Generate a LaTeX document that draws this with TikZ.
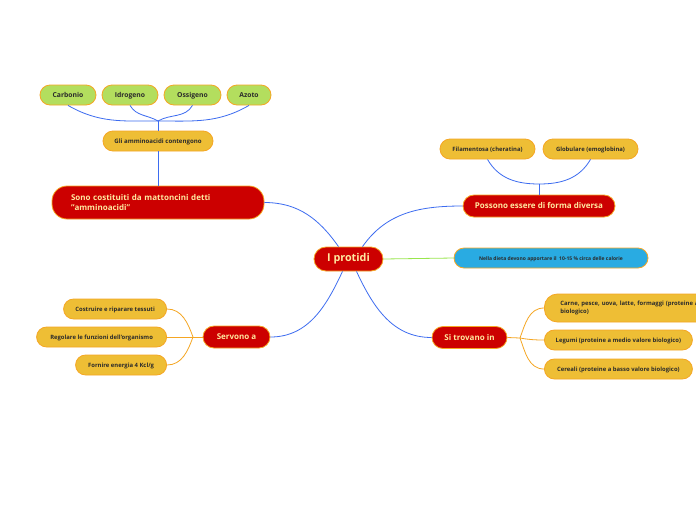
\documentclass[tikz,border=0pt]{standalone}
\usepackage{fontspec}
\setsansfont{Open Sans}
\usepackage{xcolor}
\usepackage{tikz}
\usetikzlibrary{positioning,calc}
\definecolor{mapred}{HTML}{CC0000}
\definecolor{maporange}{HTML}{F5A623}
\definecolor{mapgold}{HTML}{EEBE35}
\definecolor{mapgreen}{HTML}{B3DE5E}
\definecolor{mapblue}{HTML}{29ABE2}
\definecolor{maptext}{HTML}{FFE9A0}
\definecolor{leaftext}{HTML}{2B2B2B}
\definecolor{linkblue}{HTML}{3D6CF0}
\definecolor{linkgreen}{HTML}{99E64D}

\begin{document}
\begin{tikzpicture}[x=1pt,y=1pt,font=\sffamily,
  topic/.style={draw=maporange,fill=mapred,text=maptext,line width=0.8pt,
    rounded corners=11pt,minimum height=22pt,inner ysep=2pt,
    text height=1.5ex,text depth=0.3ex,
    font=\sffamily\bfseries\fontsize{8}{10}\selectfont},
  leaf/.style={draw=maporange,fill=mapgold,text=leaftext,line width=0.8pt,
    rounded corners=10pt,minimum height=20pt,inner ysep=1pt,
    text height=1.5ex,text depth=0.3ex,
    font=\sffamily\bfseries\fontsize{5.9}{7.5}\selectfont},
  atom/.style={leaf,fill=mapgreen,font=\sffamily\bfseries\fontsize{6.8}{8}\selectfont},
  bluelink/.style={draw=linkblue,line width=0.8pt},
  orangelink/.style={draw=maporange,line width=0.8pt}]

\clip (0,0) rectangle (696,-520);
\fill[white] (0,0) rectangle (696,-520);

% centre
\node[topic,minimum width=69pt,minimum height=24pt,rounded corners=12pt,
      font=\sffamily\bfseries\fontsize{10.8}{12}\selectfont] (prot) at (348.5,-259) {I protidi};

% left top branch
\node[topic,minimum height=33pt,rounded corners=15pt,align=left,
      text height=,text depth=,
      text width=174pt,inner xsep=19pt] (sono) at (158,-202.5)
{Sono costituiti da mattoncini detti\\"amminoacidi"};
\node[leaf,minimum width=110pt,font=\sffamily\bfseries\fontsize{6.1}{7.5}\selectfont]
      (gli) at (158,-141) {Gli amminoacidi contengono};
\node[atom,minimum width=56pt] (carb) at (68,-95) {Carbonio};
\node[atom,minimum width=56pt] (idro) at (130,-95) {Idrogeno};
\node[atom,minimum width=57pt] (ossi) at (192.5,-95) {Ossigeno};
\node[atom,minimum width=44pt] (azot) at (249,-95) {Azoto};
\coordinate (hubatom) at (158,-121);

% right top branch
\node[topic,minimum width=152pt] (poss) at (539,-206) {Possono essere di forma diversa};
\node[leaf,minimum width=95pt] (fila) at (487.5,-149) {Filamentosa (cheratina)};
\node[leaf,minimum width=95pt] (glob) at (590.5,-149) {Globulare (emoglobina)};
\coordinate (hubform) at (539,-184);

% right middle
\node[leaf,fill=mapblue,minimum width=194pt,
      font=\sffamily\bfseries\fontsize{5}{7}\selectfont] (diet) at (551,-258)
{Nella dieta devono apportare il \ 10-15 \% circa delle calorie};

% left bottom branch
\node[topic,minimum width=67pt] (serv) at (236.5,-337) {Servono a};
\node[leaf,minimum width=103pt,anchor=east] (cost) at (167,-309) {Costruire e riparare tessuti};
\node[leaf,minimum width=130pt,anchor=east] (rego) at (167,-337) {Regolare le funzioni dell'organismo};
\node[leaf,minimum width=91pt,anchor=east] (forn) at (167,-365) {Fornire energia 4 Kcl/g};
\coordinate (hubserv) at (193,-337);

% right bottom branch
\node[topic,minimum width=75pt] (sitr) at (469.5,-337.5) {Si trovano in};
\node[leaf,anchor=west,minimum height=28pt,rounded corners=13pt,align=left,
      text height=,text depth=,
      text width=230pt,inner xsep=16pt] (carn) at (544,-308)
{Carne, pesce, uova, latte, formaggi (proteine ad alto valore\\biologico)};
\node[leaf,anchor=west,minimum width=148pt] (legu) at (544,-340)
{Legumi (proteine a medio valore biologico)};
\node[leaf,anchor=west,minimum width=148pt] (cere) at (544,-369)
{Cereali (proteine a basso valore biologico)};
\coordinate (hubsitr) at (520,-338);

% links from the centre
\draw[bluelink] ($(prot.north)+(-10,0)$) to[out=125,in=0] (sono.east);
\draw[bluelink] ($(prot.north)+(14,0)$) to[out=55,in=180] (poss.west);
\draw[bluelink] ($(prot.south)+(-6,0)$) to[out=-115,in=0] (serv.east);
\draw[bluelink] ($(prot.south)+(8,0)$) to[out=-65,in=180] (sitr.west);
\draw[draw=linkgreen,line width=0.8pt] (prot.east) -- (diet.west);

% subtrees
\draw[bluelink] (gli.south) -- (sono.north);
\draw[bluelink] (gli.north) -- (hubatom);
\draw[bluelink] (hubatom) to[out=180,in=-30] (carb.south);
\draw[bluelink] (hubatom) to[out=150,in=-60] (idro.south);
\draw[bluelink] (hubatom) to[out=30,in=-120] (ossi.south);
\draw[bluelink] (hubatom) to[out=0,in=-150] (azot.south);

\draw[bluelink] (poss.north) -- (hubform);
\draw[bluelink] (hubform) to[out=180,in=-60] (fila.south);
\draw[bluelink] (hubform) to[out=0,in=-120] (glob.south);

\draw[orangelink] (serv.west) -- (hubserv);
\draw[orangelink] (hubserv) to[out=110,in=0] (cost.east);
\draw[orangelink] (hubserv) -- (rego.east);
\draw[orangelink] (hubserv) to[out=-110,in=0] (forn.east);

\draw[orangelink] (sitr.east) -- (hubsitr);
\draw[orangelink] (hubsitr) to[out=70,in=180] (carn.west);
\draw[orangelink] (hubsitr) to[out=-10,in=180] (legu.west);
\draw[orangelink] (hubsitr) to[out=-70,in=180] (cere.west);

\end{tikzpicture}
\end{document}
